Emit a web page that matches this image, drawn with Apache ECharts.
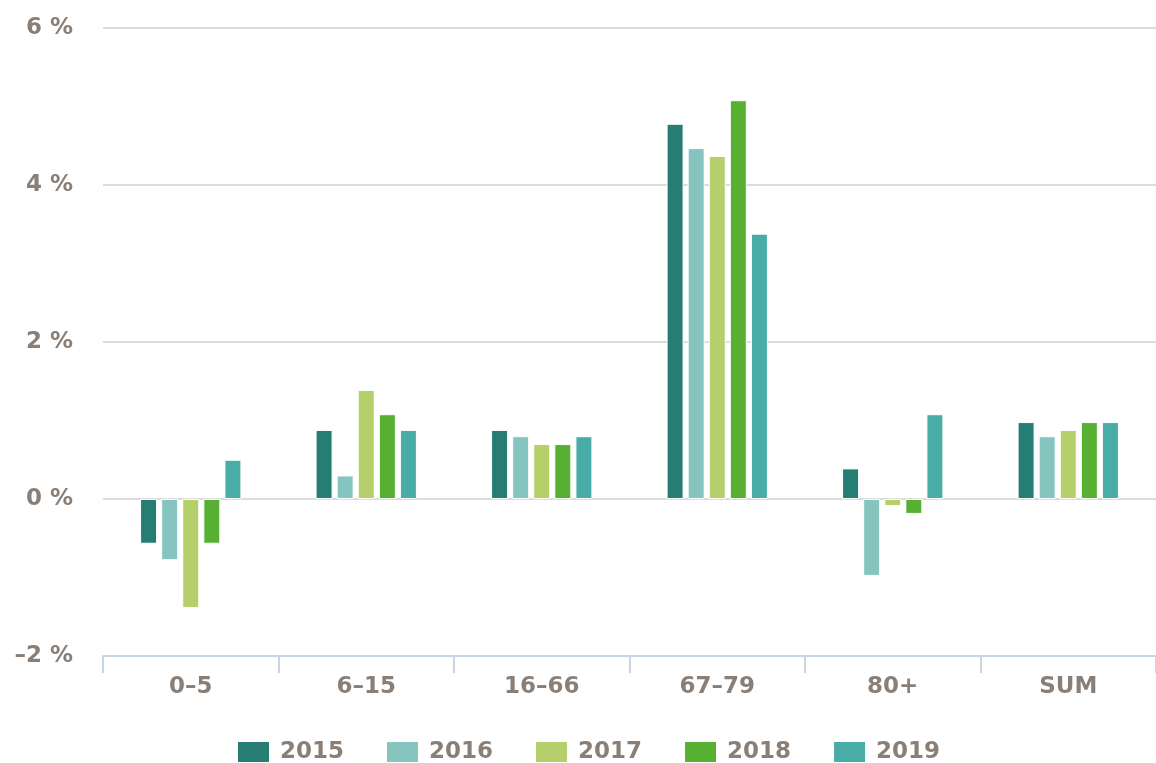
<!DOCTYPE html>
<html>
<head>
<meta charset="utf-8">
<script src="https://cdn.jsdelivr.net/npm/echarts@6/dist/echarts.min.js"></script>
<style>
  html, body { margin: 0; padding: 0; background: #fff; }
  #chart { width: 1156px; height: 763px; }
</style>
</head>
<body>
<div id="chart"></div>
<script>
//类目与数据
var categories = ['0–5', '6–15', '16–66', '67–79', '80+', 'SUM'];
var years = ['2015', '2016', '2017', '2018', '2019'];
var colors = ['#267d74', '#86c5bf', '#b5cf6b', '#57b031', '#4aaca6'];

var v2015 = [-0.57, 0.88, 0.88, 4.78, 0.39, 0.98];
var v2016 = [-0.78, 0.30, 0.80, 4.47, -0.98, 0.80];
var v2017 = [-1.39, 1.39, 0.70, 4.37, -0.09, 0.88];
var v2018 = [-0.57, 1.08, 0.70, 5.08, -0.19, 0.98];
var v2019 = [0.50, 0.88, 0.80, 3.38, 1.08, 0.98];

var yTicks = { min: -2, max: 6, interval: 2 };

var allValues = [v2015, v2016, v2017, v2018, v2019];
var textColor = '#8a7f76';
var font = 'DejaVu Sans';

var series = [];
for (var i = 0; i < years.length; i++) {
    series.push({
        name: years[i],
        type: 'bar',
        data: allValues[i],
        barWidth: 17,
        barGap: '24%',
        itemStyle: { color: colors[i], borderColor: '#fff', borderWidth: 1 }
    });
}

var chart = echarts.init(document.getElementById('chart'));
chart.setOption({
    animation: false,
    color: colors,
    grid: { left: 103, right: 0, top: 28, bottom: 107 },
    legend: {
        data: years,
        bottom: -6,
        left: 231,
        itemWidth: 33,
        itemHeight: 22,
        itemGap: 41,
        icon: 'rect',
        textStyle: {
            color: textColor, fontFamily: font, fontWeight: 'bold', fontSize: 23,
            padding: [0, 0, 0, 5]
        }
    },
    xAxis: {
        type: 'category',
        data: categories,
        axisLine: { onZero: false, lineStyle: { color: '#c8d5e5', width: 2 } },
        axisTick: { show: true, length: 17, lineStyle: { color: '#c8d5e5', width: 2 } },
        axisLabel: { color: textColor, fontFamily: font, fontWeight: 'bold', fontSize: 23, margin: 20 },
        splitLine: { show: false }
    },
    yAxis: {
        type: 'value',
        min: yTicks.min,
        max: yTicks.max,
        interval: yTicks.interval,
        axisLine: { show: false },
        axisTick: { show: false },
        axisLabel: {
            color: textColor, fontFamily: font, fontWeight: 'bold', fontSize: 23, margin: 30,
            padding: [4, 0, 0, 0],
            formatter: function (v) { return (v < 0 ? '–' + (-v) : v) + ' %'; }
        },
        splitLine: { lineStyle: { color: '#dcdcdc', width: 2 } }
    },
    series: series
});
</script>
</body>
</html>
